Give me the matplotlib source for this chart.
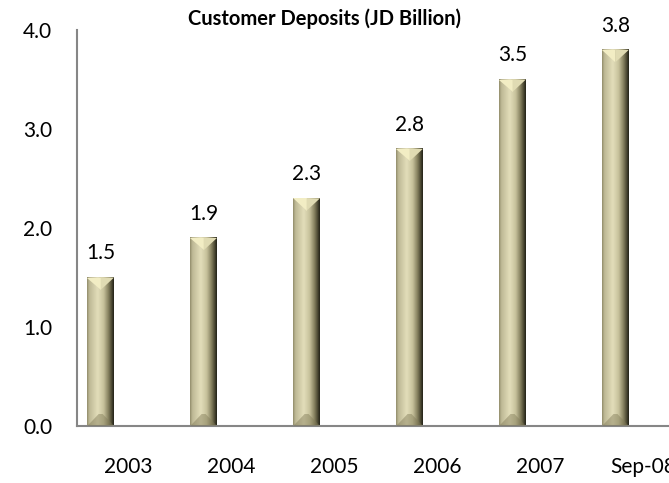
import matplotlib
matplotlib.use("Agg")
import matplotlib.pyplot as plt
import numpy as np
from matplotlib.colors import LinearSegmentedColormap
from matplotlib.patches import Polygon

#==============================================================================
# Data
#==============================================================================

periods = ['2003', '2004', '2005', '2006', '2007', 'Sep-08']
deposits = [1.5, 1.9, 2.3, 2.8, 3.5, 3.8]
y_ticks = [0.0, 1.0, 2.0, 3.0, 4.0]

#==============================================================================
# Styling
#==============================================================================

plt.rcParams['font.family'] = ['Lato', 'DejaVu Sans']
axis_grey = '#868686'
bar_shift = -0.27      # bars sit left of the category centre
bar_width = 0.26

# horizontal shading across the face of each bar
face_cmap = LinearSegmentedColormap.from_list('khaki_face', [
    (0.00, (0.55, 0.53, 0.40)),
    (0.08, (0.74, 0.72, 0.58)),
    (0.40, (0.89, 0.87, 0.73)),
    (0.62, (0.78, 0.76, 0.61)),
    (0.80, (0.52, 0.50, 0.37)),
    (0.93, (0.27, 0.26, 0.18)),
    (1.00, (0.12, 0.12, 0.08)),
])

fig = plt.figure(figsize=(6.69, 4.83), dpi=100)
ax = fig.add_axes([77 / 669, 57 / 483, 1 - 77 / 669, 396 / 483])

x = np.arange(len(periods))
bars = ax.bar(x + bar_shift, deposits, width=bar_width, color='none',
              edgecolor='none', zorder=2)

xlim = (-0.5, 5.25)
ylim = (0.0, 4.0)
ax.set_xlim(xlim)
ax.set_ylim(ylim)

# pixel -> data scale factors for bevel geometry
p0 = ax.transData.transform((0, 0))
p1 = ax.transData.transform((1, 1))
px_x = p1[0] - p0[0]
px_y = p1[1] - p0[1]

grad = np.linspace(0, 1, 256).reshape(1, -1)
for rect, val in zip(bars, deposits):
    x0 = rect.get_x()
    x1 = x0 + rect.get_width()
    xc = 0.5 * (x0 + x1)
    top = rect.get_height()
    ax.imshow(grad, extent=(x0, x1, 0, top), aspect='auto', cmap=face_cmap,
              interpolation='bicubic', zorder=2)

    half_px = 0.5 * rect.get_width() * px_x
    d_top = (half_px - 1) / px_y
    d_bot = 12 / px_y
    inset = (half_px - 2) / px_x
    # pale top chevron, shaded darker on the right half
    ax.add_patch(Polygon([(x0, top), (xc, top), (xc, top - d_top)],
                         closed=True, facecolor=(0.95, 0.93, 0.77),
                         edgecolor='none', zorder=3))
    ax.add_patch(Polygon([(xc, top), (x1, top), (xc, top - d_top)],
                         closed=True, facecolor=(0.88, 0.86, 0.70),
                         edgecolor='none', zorder=3))
    # darker bottom bevel
    ax.add_patch(Polygon([(x0, 0), (x1, 0), (x1 - inset, d_bot),
                          (x0 + inset, d_bot)],
                         closed=True, facecolor=(0.50, 0.48, 0.34),
                         alpha=0.45, edgecolor='none', zorder=3))
    ax.annotate('{:.1f}'.format(val), (xc, top), xytext=(0, 13),
                textcoords='offset points', ha='center', va='baseline',
                fontsize=15, zorder=4)

ax.set_xlim(xlim)
ax.set_ylim(ylim)

ax.set_xticks(x)
ax.set_xticklabels(periods)
ax.set_yticks(y_ticks)
ax.set_yticklabels(['{:.1f}'.format(t) for t in y_ticks])
ax.tick_params(axis='both', length=0, labelsize=15)
ax.tick_params(axis='x', pad=22)
ax.tick_params(axis='y', pad=18)

for side in ('top', 'right'):
    ax.spines[side].set_visible(False)
for side in ('left', 'bottom'):
    ax.spines[side].set_color(axis_grey)
    ax.spines[side].set_linewidth(1.5)

fig.text(325 / 669, 1 - 19 / 483, 'Customer Deposits (JD Billion)',
         ha='center', va='center', fontsize=14.5, fontweight='bold')

fig.savefig('out.png', dpi=100)
